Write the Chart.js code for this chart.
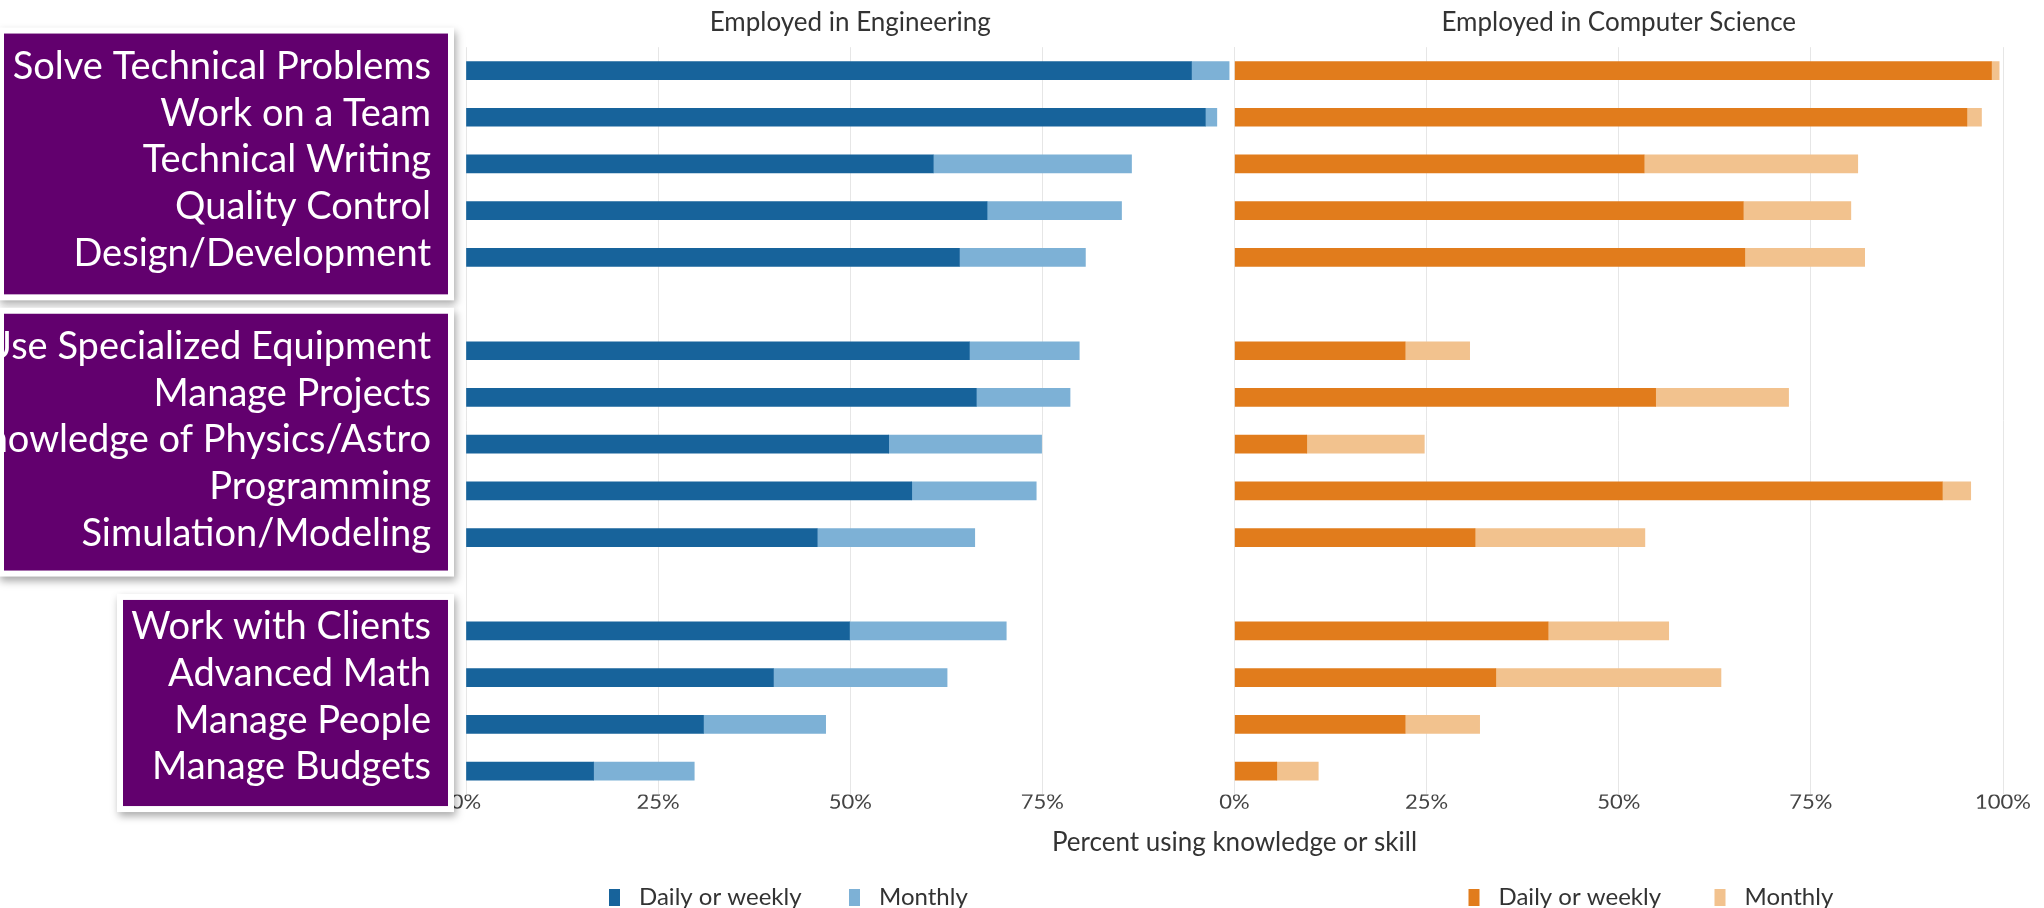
<!DOCTYPE html>
<html>
<head>
<meta charset="utf-8">
<title>Knowledge and skills used at work</title>
<script src="https://cdn.jsdelivr.net/npm/chart.js@4.4.1/dist/chart.umd.min.js"></script>
<style>
  html, body { margin: 0; padding: 0; background: #fff; }
  #wrap { width: 2044px; height: 908px; position: relative; }
</style>
</head>
<body>
<div id="wrap"><canvas id="myChart"></canvas></div>
<script>
// rows of the chart, '' rows are the gaps between the three label boxes
const skills = [
    'Solve Technical Problems', 'Work on a Team', 'Technical Writing', 'Quality Control', 'Design/Development',
    '',
    'Use Specialized Equipment', 'Manage Projects', 'Knowledge of Physics/Astro', 'Programming', 'Simulation/Modeling',
    '',
    'Work with Clients', 'Advanced Math', 'Manage People', 'Manage Budgets'
];

// percent using the skill, engineering panel
const engDaily   = [94.4, 96.2, 60.8, 67.8, 64.2, null, 65.5, 66.4, 55.0, 58.0, 45.7, null, 49.9, 40.0, 30.9, 16.6];
const engMonthly = [ 4.9,  1.5, 25.8, 17.5, 16.4, null, 14.3, 12.2, 19.9, 16.2, 20.5, null, 20.4, 22.6, 15.9, 13.1];

// percent using the skill, computer science panel
const csDaily   = [98.5, 95.3, 53.3, 66.2, 66.4, null, 22.2, 54.8,  9.4, 92.1, 31.3, null, 40.8, 34.0, 22.2,  5.5];
const csMonthly = [ 1.0,  1.9, 27.8, 14.0, 15.6, null,  8.4, 17.3, 15.3,  3.7, 22.1, null, 15.7, 29.3,  9.7,  5.4];

const tickValues = [0, 25, 50, 75, 100];
// first row, last row, left edge, top / bottom margin of each purple box
const boxGroups = [[0, 4, 4, 37, 37], [6, 10, 4, 37, 33], [12, 15, 123, 31, 35]];

const FONT = 'Lato, "Open Sans", sans-serif';
const engColors = ['#17639b', '#7db1d6'];
const csColors = ['#e17c1c', '#f2c28e'];

let myChart = document.querySelector("#myChart");

const pctAxis = (hideLast) => ({
    type: 'linear',
    position: 'bottom',
    stack: 'panels',
    stackWeight: 1,
    stacked: true,
    min: 0,
    max: 100,
    afterBuildTicks: (scale) => {
        scale.ticks = tickValues.map(v => ({ value: v }));
    },
    ticks: {
        padding: -6,
        color: '#444',
        font: { family: FONT, size: 22 },
        callback: (v) => (hideLast && v === 100) ? '' : v + '%',
    },
    grid: { color: '#e6e6e6', drawTicks: false },
    border: { display: false },
});

const titleAxis = (text, position, stack) => ({
    type: 'linear',
    position: position,
    stack: stack,
    stackWeight: 1,
    weight: 1,
    ticks: { display: false },
    grid: { display: false, drawTicks: false },
    border: { display: false },
    title: {
        display: true,
        text: text,
        color: '#333',
        font: { family: FONT, size: 26 },
        padding: position === 'top' ? { top: 7, bottom: 9 } : { top: 18, bottom: 4 },
    },
});

// purple label boxes + the two small legends
const panelExtras = {
    id: 'panelExtras',
    afterDatasetsDraw(chart) {
        const { ctx, scales: { y } } = chart;
        ctx.save();
        boxGroups.forEach(([first, last, left, mTop, mBottom]) => {
            const top = y.getPixelForValue(first) - mTop;
            const bottom = y.getPixelForValue(last) + mBottom;
            const right = 448;
            ctx.shadowColor = 'rgba(0, 0, 0, 0.35)';
            ctx.shadowBlur = 8;
            ctx.shadowOffsetX = 2;
            ctx.shadowOffsetY = 4;
            ctx.fillStyle = '#ffffff';
            ctx.fillRect(left - 6, top - 6, right - left + 12, bottom - top + 12);
            ctx.shadowColor = 'transparent';
            ctx.fillStyle = '#62006e';
            ctx.fillRect(left, top, right - left, bottom - top);
        });
        ctx.restore();
    },
    afterDraw(chart) {
        const { ctx, scales: { xEng, xCs } } = chart;
        const yMid = chart.height - 11;
        const legends = [
            { scale: xEng, offsets: [143, 383], datasets: [0, 1] },
            { scale: xCs, offsets: [234, 480], datasets: [2, 3] },
        ];
        ctx.save();
        ctx.font = '24px ' + FONT;
        ctx.textBaseline = 'middle';
        ctx.textAlign = 'left';
        legends.forEach(l => {
            l.datasets.forEach((d, k) => {
                const ds = chart.data.datasets[d];
                const x = l.scale.left + l.offsets[k];
                ctx.fillStyle = ds.backgroundColor;
                ctx.fillRect(x, yMid - 8, 11, 17);
                ctx.fillStyle = '#333';
                ctx.fillText(ds.label, x + 30, yMid);
            });
        });
        ctx.restore();
    }
};

const data = {
    labels: skills,
    datasets: [
        { label: 'Daily or weekly', data: engDaily, backgroundColor: engColors[0], xAxisID: 'xEng', stack: 'row' },
        { label: 'Monthly', data: engMonthly, backgroundColor: engColors[1], xAxisID: 'xEng', stack: 'row' },
        { label: 'Daily or weekly', data: csDaily, backgroundColor: csColors[0], xAxisID: 'xCs', stack: 'row' },
        { label: 'Monthly', data: csMonthly, backgroundColor: csColors[1], xAxisID: 'xCs', stack: 'row' },
    ],
};

let chart = new Chart(myChart, {
    type: 'bar',
    data: data,
    plugins: [panelExtras],
    options: {
        indexAxis: 'y',
        responsive: true,
        maintainAspectRatio: false,
        animation: false,
        barThickness: 18,
        layout: { padding: { top: 0, right: 41, bottom: 46, left: 0 } },
        scales: {
            y: {
                type: 'category',
                stacked: true,
                grid: { display: false, drawTicks: false },
                border: { display: false },
                ticks: {
                    z: 1,
                    autoSkip: false,
                    padding: 35,
                    labelOffset: -4,
                    color: '#ffffff',
                    font: { family: FONT, size: 38 },
                },
                afterFit: (scale) => {
                    scale.width = 466;
                    scale.paddingTop = 0;
                    scale.paddingBottom = 0;
                },
            },
            xEng: pctAxis(true),
            xCs: pctAxis(false),
            xCsTitle: titleAxis('Employed in Computer Science', 'top', 'titles'),
            xEngTitle: titleAxis('Employed in Engineering', 'top', 'titles'),
            xLabel: titleAxis('Percent using knowledge or skill', 'bottom', undefined),
        },
        plugins: {
            legend: { display: false },
            tooltip: { enabled: false },
        },
    },
});
</script>
</body>
</html>
